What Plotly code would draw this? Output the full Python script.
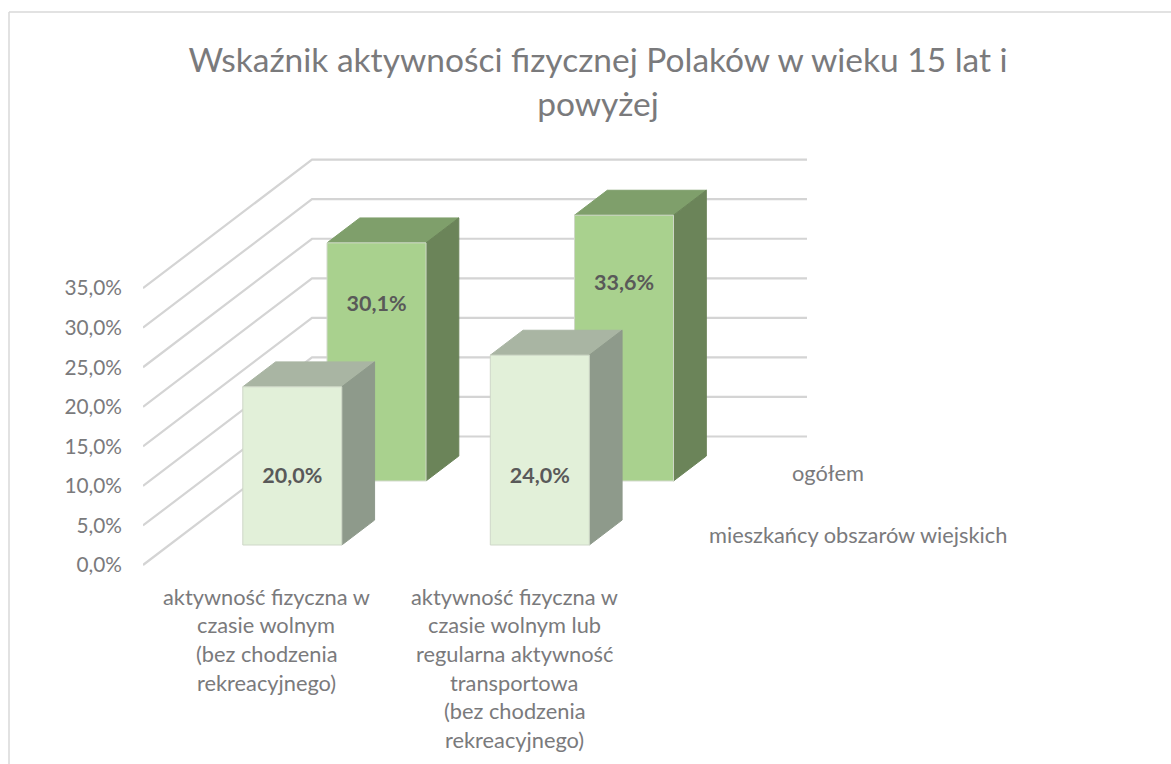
import plotly.graph_objects as go

TITLE = "Wskaźnik aktywności fizycznej Polaków w wieku 15 lat i<br>powyżej"
CATEGORIES = [
    ["aktywność fizyczna w", "czasie wolnym", "(bez chodzenia", "rekreacyjnego)"],
    ["aktywność fizyczna w", "czasie wolnym lub", "regularna aktywność", "transportowa", "(bez chodzenia", "rekreacyjnego)"],
]
SERIES = ["mieszkańcy obszarów wiejskich", "ogółem"]
RURAL = [20.0, 24.0]
TOTAL = [30.1, 33.6]
TICKS = [0, 5, 10, 15, 20, 25, 30, 35]
TICK_LABELS = ["0,0%", "5,0%", "10,0%", "15,0%", "20,0%", "25,0%", "30,0%", "35,0%"]

W, H = 1171, 764
X0, Y0 = 143, 565           # pixel of the front-floor origin
PX_PER_UNIT = 7.91          # pixels per percentage point
CAT_W = 247.5
DEPTH_X, DEPTH_Y = 169, 128.5
BAR_W = 0.4
BAR_D = 0.194
TOP_PX = 20
TEXT = "#7a7a7c"
FONT = "Lato"

def pr(x, z, v):
    """Oblique projection: category x, depth z (0-1), value v -> plot axes."""
    return x * CAT_W + z * DEPTH_X, v + z * DEPTH_Y / PX_PER_UNIT

def poly(corners, fill, line=None, name=None):
    pts = [pr(*c) for c in corners]
    pts.append(pts[0])
    return go.Scatter(
        x=[p[0] for p in pts], y=[p[1] for p in pts], mode="lines", fill="toself",
        fillcolor=fill, line=dict(color=line or fill, width=1), hoverinfo="skip",
        showlegend=False, name=name,
    )

def bar_traces(cat, z0, value, front, top, side, name):
    x0 = cat + 0.297
    x1, z1 = x0 + BAR_W, z0 + BAR_D
    return [
        poly([(x0, z0, value), (x1, z0, value), (x1, z1, value), (x0, z1, value)], top, name=name),
        poly([(x1, z0, 0), (x1, z1, 0), (x1, z1, value), (x1, z0, value)], side, name=name),
        poly([(x0, z0, 0), (x1, z0, 0), (x1, z0, value), (x0, z0, value)], front, line="#cfd8c8", name=name),
    ]

fig = go.Figure()

# walls: gridlines on side wall and back wall
gx, gy = [], []
for t in TICKS:
    for x, z in [(0, 0), (0, 1), (2, 1)]:
        a, b = pr(x, z, t)
        gx.append(a); gy.append(b)
    gx.append(None); gy.append(None)
fig.add_trace(go.Scatter(x=gx, y=gy, mode="lines", line=dict(color="#d4d4d4", width=2.2),
                         hoverinfo="skip", showlegend=False))

# rear row (ogółem), then front row (rural)
for i, v in enumerate(TOTAL):
    for tr in bar_traces(i, 0.654, v, "#A9D18E", "#7F9F6B", "#6B8459", SERIES[1]):
        fig.add_trace(tr)
for i, v in enumerate(RURAL):
    for tr in bar_traces(i, 0.1556, v, "#E2F0D9", "#A9B5A3", "#8E9A8B", SERIES[0]):
        fig.add_trace(tr)

# data labels sit on the front faces
LABEL_FRAC_TOTAL = 0.737
LABEL_H_RURAL = 8.5
lx, ly, lt = [], [], []
for i, v in enumerate(TOTAL):
    a, b = pr(i + 0.297 + BAR_W / 2, 0.654, v * LABEL_FRAC_TOTAL)
    lx.append(a); ly.append(b); lt.append(f"{v:.1f}%".replace(".", ","))
for i, v in enumerate(RURAL):
    a, b = pr(i + 0.297 + BAR_W / 2, 0.1556, LABEL_H_RURAL)
    lx.append(a); ly.append(b); lt.append(f"{v:.1f}%".replace(".", ","))
fig.add_trace(go.Scatter(x=lx, y=ly, mode="text", text=lt, textposition="middle center",
                         textfont=dict(family=FONT, size=21.5, color="#595959", weight="bold"),
                         hoverinfo="skip", showlegend=False))

annotations = []
def label(text, cx, cy, size=21.8):
    annotations.append(dict(
        x=cx - X0, y=(Y0 - cy) / PX_PER_UNIT, xref="x", yref="y", text=text, showarrow=False,
        xanchor="center", yanchor="middle", font=dict(family=FONT, size=size, color=TEXT),
    ))

CAT_CENTERS = [266, 514]
CAT_LINE_Y = 596
CAT_LEADING = 28.7
for c, lines in zip(CAT_CENTERS, CATEGORIES):
    for j, ln in enumerate(lines):
        label(ln, c, CAT_LINE_Y + j * CAT_LEADING)
label(SERIES[1], 828, 472)
label(SERIES[0], 858, 534)

bx = (9 - X0) / (W - X0)
by = 1 - (12 - TOP_PX) / (H - TOP_PX)
fig.update_layout(
    width=W, height=H, autosize=False,
    margin=dict(l=X0, r=0, t=TOP_PX, b=0, pad=0),
    paper_bgcolor="white", plot_bgcolor="rgba(0,0,0,0)",
    title=dict(text=TITLE, x=598 / W, xanchor="center", y=1 - 72 / H, yanchor="middle",
               font=dict(family=FONT, size=33.5, color=TEXT)),
    xaxis=dict(range=[0, W - X0], visible=False, fixedrange=True),
    yaxis=dict(range=[(Y0 - H) / PX_PER_UNIT, (Y0 - TOP_PX) / PX_PER_UNIT], tickmode="array",
               tickvals=TICKS, ticktext=TICK_LABELS, showgrid=False, zeroline=False, showline=False,
               ticks="", ticklabelstandoff=20, fixedrange=True,
               tickfont=dict(family=FONT, size=20.8, color=TEXT)),
    annotations=annotations,
    shapes=[dict(type="line", xref="paper", yref="paper", x0=bx, x1=1, y0=by, y1=by,
                 line=dict(color="#d9d9d9", width=1.5)),
            dict(type="line", xref="paper", yref="paper", x0=bx, x1=bx, y0=0, y1=by,
                 line=dict(color="#d9d9d9", width=1.5))],
)
fig.write_html("out.html", post_script="document.body.style.margin='0';document.documentElement.style.overflow='hidden';",
               config=dict(displayModeBar=False))
